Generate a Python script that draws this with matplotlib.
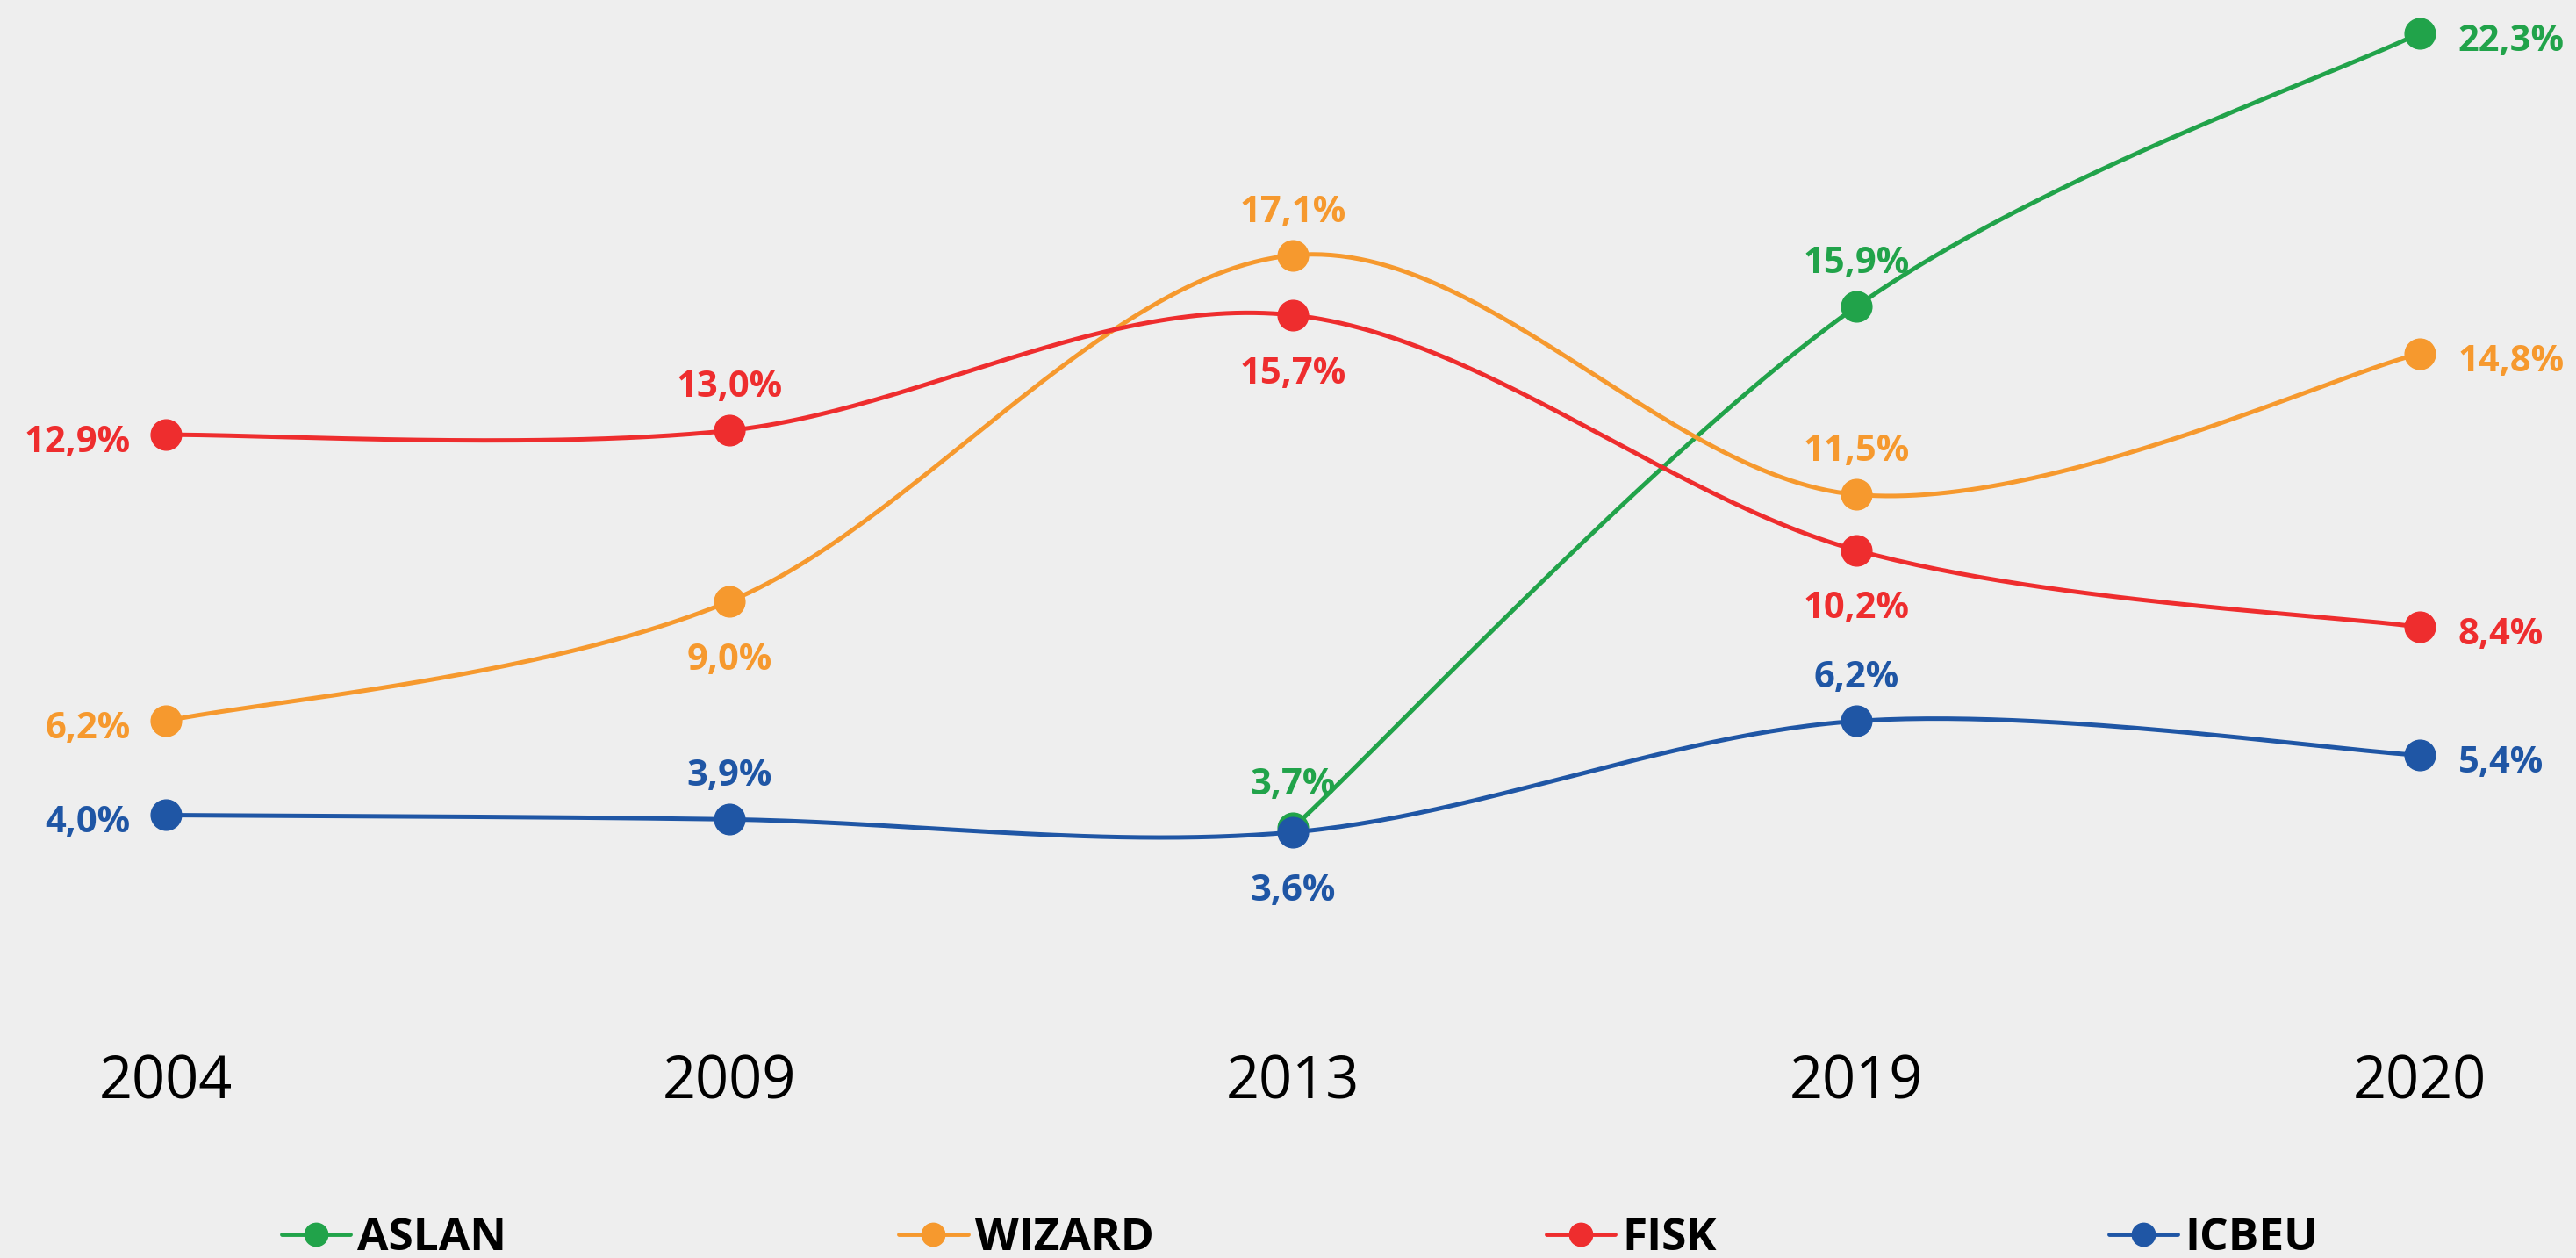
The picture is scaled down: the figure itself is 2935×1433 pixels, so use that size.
import numpy as np
import matplotlib
matplotlib.use("Agg")
import matplotlib.pyplot as plt
from matplotlib.lines import Line2D
from matplotlib.transforms import blended_transform_factory

# ---- data ----
years = ["2004", "2009", "2013", "2019", "2020"]
series_names = ["ASLAN", "WIZARD", "FISK", "ICBEU"]
aslan = [np.nan, np.nan, 3.7, 15.9, 22.3]
wizard = [6.2, 9.0, 17.1, 11.5, 14.8]
fisk = [12.9, 13.0, 15.7, 10.2, 8.4]
icbeu = [4.0, 3.9, 3.6, 6.2, 5.4]
colors = ["#21a34a", "#f6992e", "#ee2d2e", "#1f56a5"]
label_pos = [
    [None, None, "above", "above", "right"],
    ["left", "below", "above", "above", "right"],
    ["left", "above", "below", "below", "right"],
    ["left", "above", "below", "above", "right"],
]
values = [aslan, wizard, fisk, icbeu]

BG = "#eeeeee"
W, H, DPI = 2935, 1433, 100


def smooth(xs, ys, n=60):
    """Catmull-Rom (Bezier) smoothing through the given points."""
    pts = np.column_stack([xs, ys])
    out = []
    m = len(pts)
    for i in range(m - 1):
        p0 = pts[i - 1] if i > 0 else pts[i]
        p1 = pts[i]
        p2 = pts[i + 1]
        p3 = pts[i + 2] if i + 2 < m else pts[i + 1]
        c1 = p1 + (p2 - p0) / 6.0
        c2 = p2 - (p3 - p1) / 6.0
        t = np.linspace(0, 1, n)[:, None]
        seg = ((1 - t) ** 3) * p1 + 3 * ((1 - t) ** 2) * t * c1 + 3 * (1 - t) * t ** 2 * c2 + t ** 3 * p2
        out.append(seg if i == 0 else seg[1:])
    out = np.vstack(out)
    return out[:, 0], out[:, 1]


plt.rcParams["font.family"] = ["Open Sans", "DejaVu Sans"]

fig = plt.figure(figsize=(W / DPI, H / DPI), dpi=DPI, facecolor=BG)
ax = fig.add_axes([0, 0, 1, 1])
ax.set_facecolor(BG)
ax.set_xlim(-0.2944, 4.2773)
ax.set_ylim(-6.364, 23.074)
ax.axis("off")

x = np.arange(len(years))
offsets = {
    "above": ((0, 27.5), "center"),
    "below": ((0, -56), "center"),
    "left": ((-29, -14.4), "right"),
    "right": ((31.5, -14.4), "left"),
}

for k, (name, vals, col, pos) in enumerate(zip(series_names, values, colors, label_pos)):
    v = np.array(vals, dtype=float)
    mask = ~np.isnan(v)
    xs, ys = smooth(x[mask].astype(float), v[mask])
    z = 2 + k
    ax.plot(xs, ys, color=col, lw=3.6, solid_capstyle="round", zorder=z)
    ax.plot(x[mask], v[mask], "o", color=col, ms=25, zorder=z, label=name)
    for xi, yi, p in zip(x, v, pos):
        if p is None or np.isnan(yi):
            continue
        off, ha = offsets[p]
        txt = f"{yi:.1f}".replace(".", ",") + "%"
        ax.annotate(txt, (xi, yi), xytext=off, textcoords="offset points",
                    ha=ha, va="baseline", fontsize=30, fontweight="bold",
                    color=col, zorder=10)

# year labels
trans = blended_transform_factory(ax.transData, fig.transFigure)
for xi, yr in zip(x, years):
    ax.text(xi, 1 - 1252 / H, yr, transform=trans, ha="center", va="baseline",
            fontsize=48, color="#000000")

# legend
handles = [Line2D([], [], color=c, lw=3.5, marker="o", ms=19, solid_capstyle="round")
           for c in colors]
leg = fig.legend(handles, series_names, loc="center", bbox_to_anchor=(1481 / W, 1 - 1411 / H),
                 ncol=4, frameon=False, handlelength=1.52, handletextpad=0.16,
                 columnspacing=8.7, prop={"family": ["Open Sans", "DejaVu Sans"],
                                          "weight": "bold", "size": 37})

fig.savefig("out.png", dpi=DPI, facecolor=BG)
